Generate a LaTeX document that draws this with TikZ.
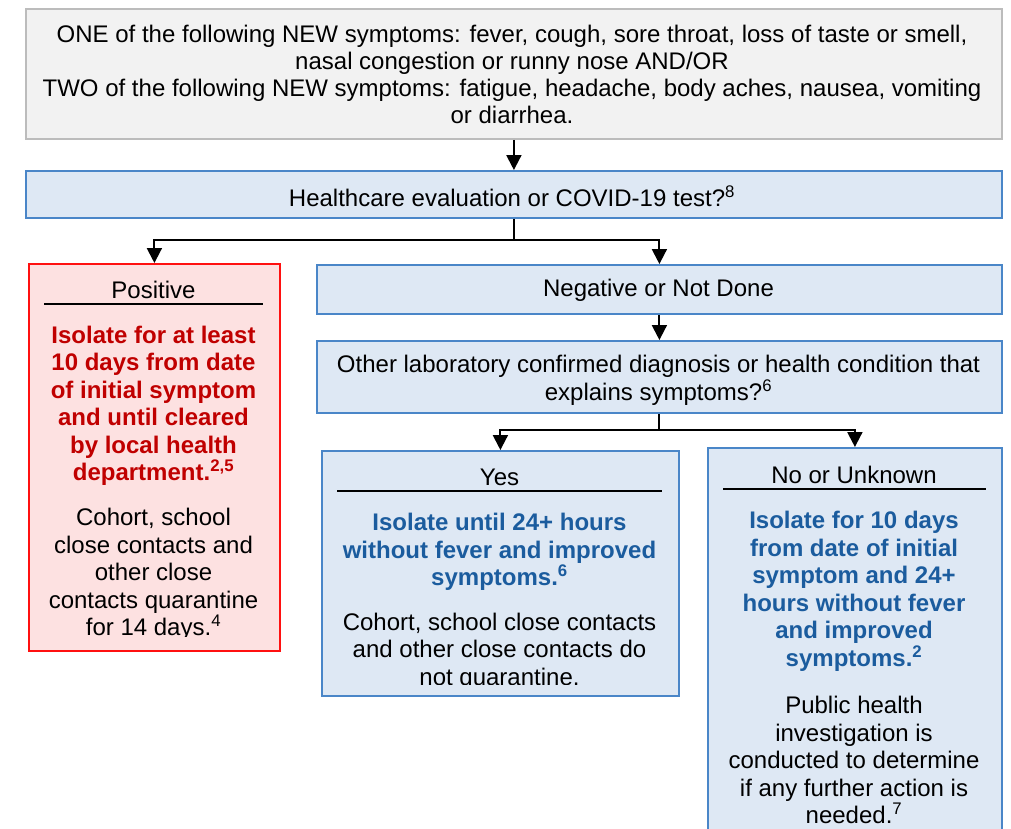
\documentclass[tikz,border=0pt]{standalone}
\usepackage{fontspec}
\setmainfont{Liberation Sans}
\usetikzlibrary{arrows.meta}
\definecolor{gfill}{HTML}{F2F2F2}
\definecolor{gdraw}{HTML}{BCBCBC}
\definecolor{bfill}{HTML}{DEE8F4}
\definecolor{bdraw}{HTML}{4A86C8}
\definecolor{pfill}{HTML}{FDE1E1}
\definecolor{pdraw}{HTML}{FF1010}
\definecolor{rtext}{HTML}{C00000}
\definecolor{btext}{HTML}{1B5C9E}
\tikzset{
 box/.style={rectangle, line width=1.8pt, inner sep=0pt, anchor=north west},
 gbox/.style={box, draw=gdraw, fill=gfill},
 bbox/.style={box, draw=bdraw, fill=bfill},
 pbox/.style={box, draw=pdraw, fill=pfill},
 txt/.style={align=center, inner sep=0pt, font=\fontsize{24}{27.5}\selectfont},
 btxt/.style={txt, font=\fontsize{24}{27.5}\selectfont\bfseries},
 divider/.style={line width=1.8pt, black},
 conn/.style={line width=2pt, black},
 arr/.style={conn, -{Triangle[width=15pt,length=15pt]}},
}
\newcommand{\sups}[1]{\textsuperscript{#1}}
\begin{document}
\begin{tikzpicture}[x=1pt,y=-1pt]
\useasboundingbox (0,0) rectangle (1011,828);
\clip (0,0) rectangle (1011,828);
% boxes
\node[gbox, minimum width=976pt, minimum height=130pt] (top) at (25,8) {};
\node[bbox, minimum width=976pt, minimum height=47pt] (hc) at (25,170) {};
\node[pbox, minimum width=251pt, minimum height=387pt] (pos) at (28,263) {};
\node[bbox, minimum width=685pt, minimum height=49pt] (neg) at (316,264) {};
\node[bbox, minimum width=685pt, minimum height=72pt] (lab) at (316,340) {};
\node[bbox, minimum width=357pt, minimum height=245pt] (yes) at (321,450) {};
\node[bbox, minimum width=294pt, minimum height=420pt] (no) at (707,447) {};
% texts
\node[txt, font=\fontsize{24}{27}\selectfont] (toptext) at (512,74) {ONE of the following NEW symptoms: fever, cough, sore throat, loss of taste or smell,\\nasal congestion or runny nose AND/OR\\TWO of the following NEW symptoms: fatigue, headache, body aches, nausea, vomiting\\or diarrhea.};
\node[txt] (hctext) at (512,196) {Healthcare evaluation or COVID-19 test?\sups{8}};
\node[txt] (negtext) at (658.5,290) {Negative or Not Done};
\node[txt] (labtext) at (658.5,380.5) {Other laboratory confirmed diagnosis or health condition that\\explains symptoms?\sups{6}};
% positive
\node[txt] (postitle) at (153.5,289.5) {Positive};
\draw[divider] (44,304) -- (263,304);
\node[btxt, text=rtext] (posred) at (153.5,406) {Isolate for at least\\10 days from date\\of initial symptom\\and until cleared\\by local health\\department.\sups{2,5}};
\begin{scope}
\clip (30,300) rectangle (277,636);
\node[txt] (posblack) at (153.5,574.5) {Cohort, school\\close contacts and\\other close\\contacts quarantine\\for 14 days.\sups{4}};
\end{scope}
% yes
\node[txt] (yestitle) at (499.5,477) {Yes};
\draw[divider] (337,491) -- (662,491);
\node[btxt, text=btext] (yesblue) at (499.5,552) {Isolate until 24+ hours\\without fever and improved\\symptoms.\sups{6}};
\begin{scope}
\clip (323,600) rectangle (676,684);
\node[txt] (yesblack) at (499.5,651.5) {Cohort, school close contacts\\and other close contacts do\\not quarantine.};
\end{scope}
% no
\node[txt] (notitle) at (854,475) {No or Unknown};
\draw[divider] (723,489) -- (986,489);
\node[btxt, text=btext] (noblue) at (854,591.5) {Isolate for 10 days\\from date of initial\\symptom and 24+\\hours without fever\\and improved\\symptoms.\sups{2}};
\node[txt] (noblack) at (854,760) {Public health\\investigation is\\conducted to determine\\if any further action is\\needed.\sups{7}};
% connectors
\coordinate (j1) at (hc.south |- 0,240);
\coordinate (j2) at (lab.south |- 0,430);
\draw[arr] (top.south) -- (hc.north);
\draw[conn] (hc.south) -- (j1);
\draw[arr] (j1) -| (pos.north);
\draw[arr] (j1) -| (neg.north);
\draw[arr] (neg.south) -- (lab.north);
\draw[conn] (lab.south) -- (j2);
\draw[arr] (j2) -| (yes.north);
\draw[arr] (j2) -| (no.north);
\end{tikzpicture}
\end{document}
